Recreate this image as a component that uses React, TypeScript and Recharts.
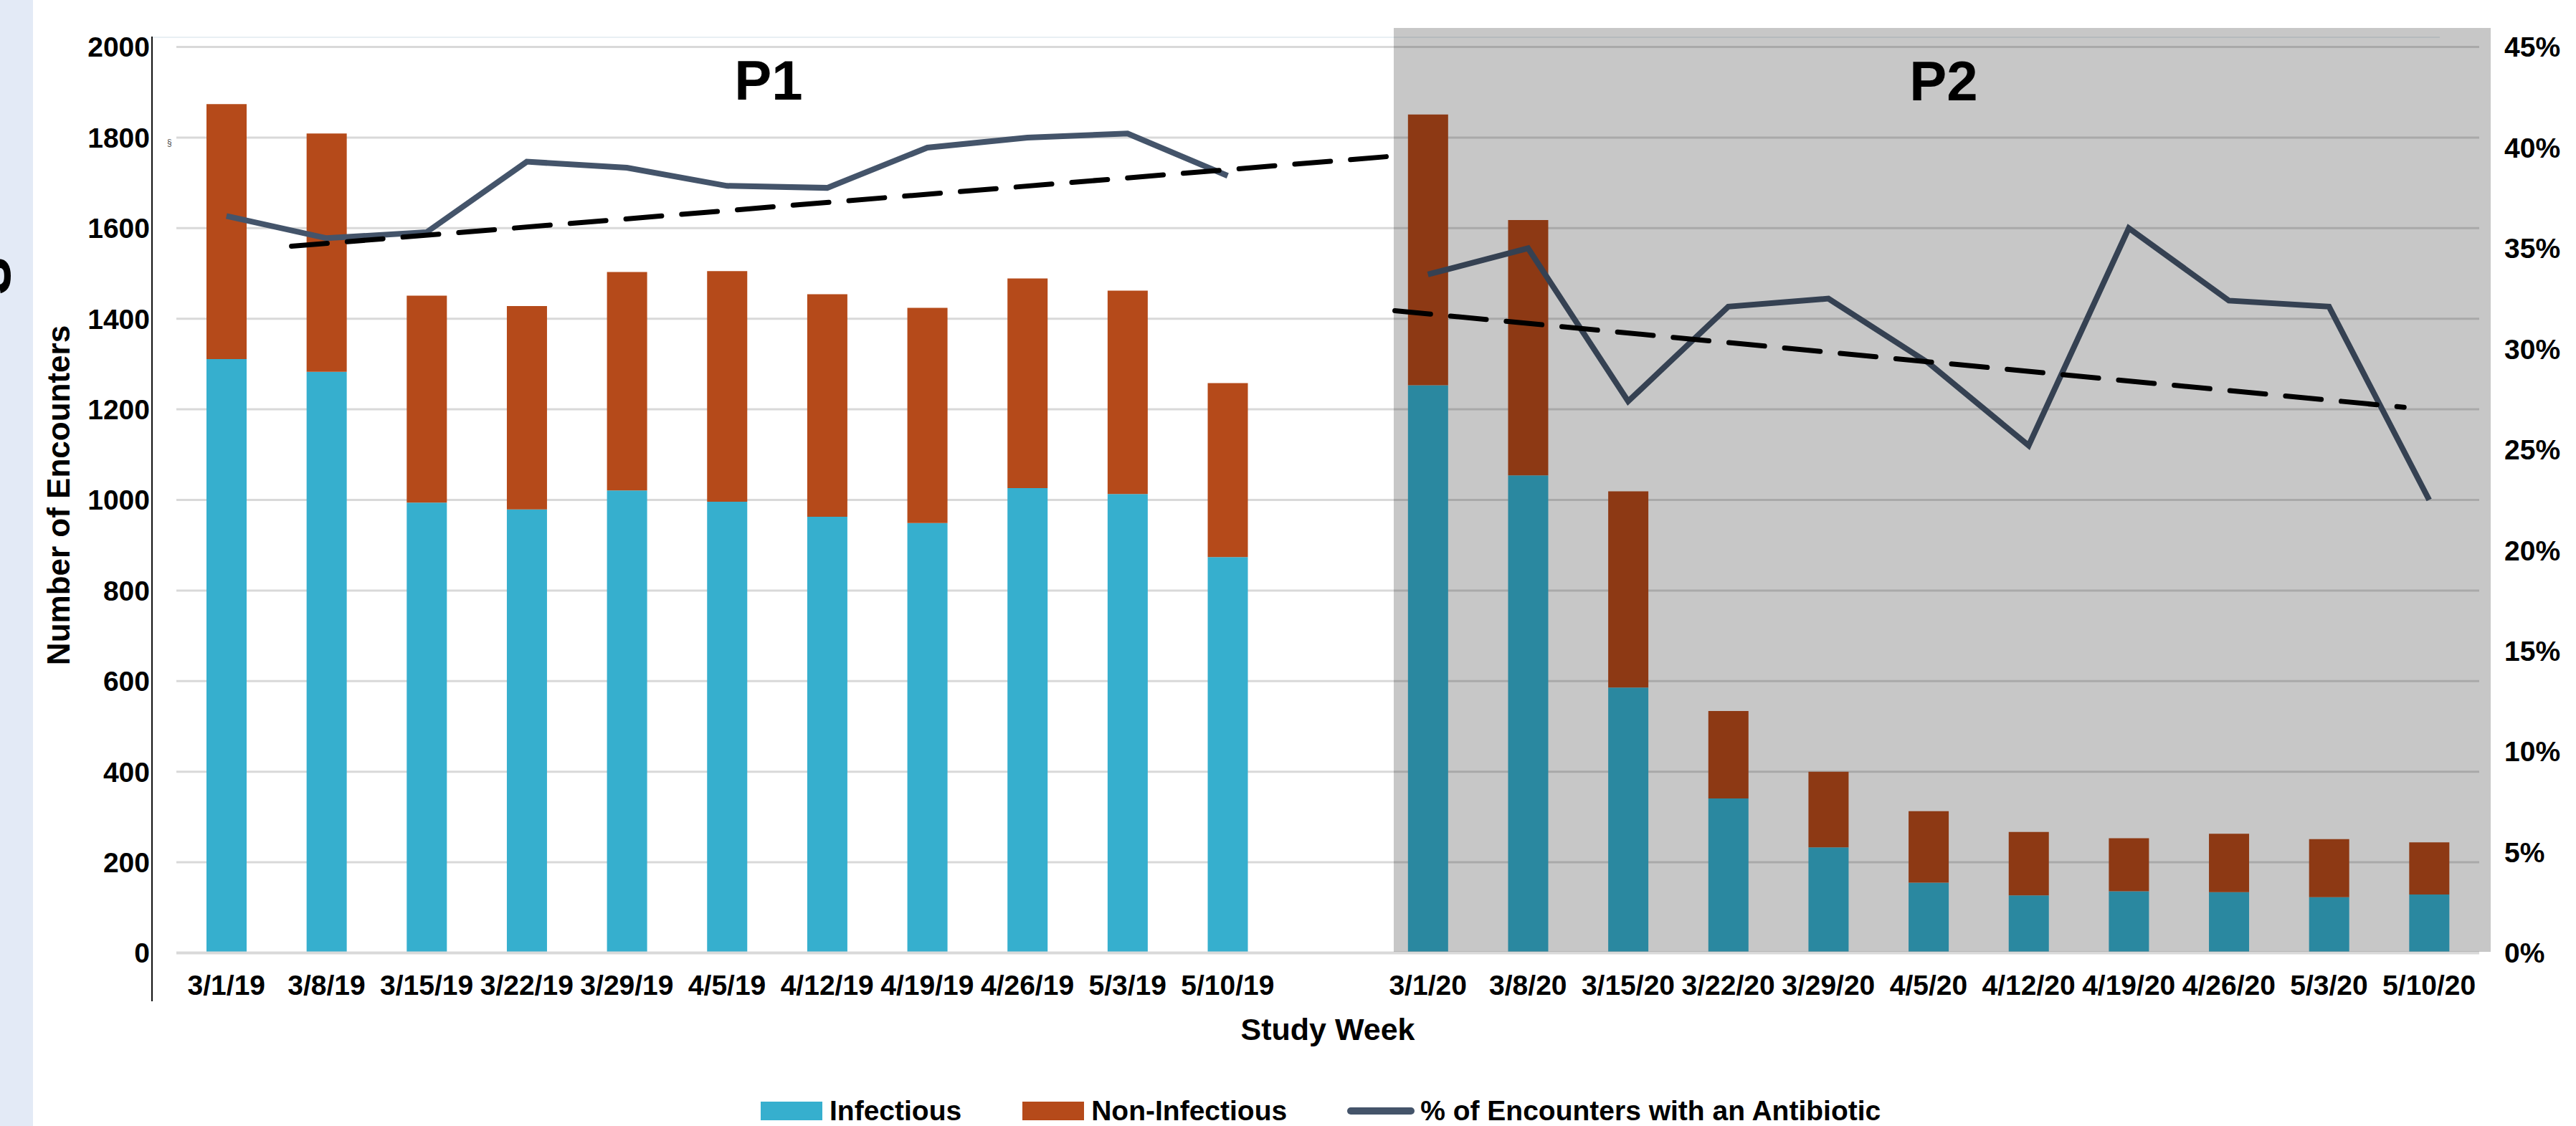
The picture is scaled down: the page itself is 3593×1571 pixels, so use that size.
import { ComposedChart, Bar, Line, XAxis, YAxis, CartesianGrid, ReferenceLine } from 'recharts';

const FONT = '"Liberation Sans", Arial, sans-serif';

// study weeks (blank slot separates the two periods)
const weeks = [
  '3/1/19', '3/8/19', '3/15/19', '3/22/19', '3/29/19', '4/5/19', '4/12/19', '4/19/19', '4/26/19', '5/3/19', '5/10/19',
  '',
  '3/1/20', '3/8/20', '3/15/20', '3/22/20', '3/29/20', '4/5/20', '4/12/20', '4/19/20', '4/26/20', '5/3/20', '5/10/20',
];

const infectious = [
  1311, 1283, 994, 979, 1021, 996, 963, 949, 1026, 1013, 874,
  null,
  1253, 1054, 586, 341, 233, 155, 127, 136, 134, 123, 129,
];

const nonInfectious = [
  563, 526, 457, 449, 482, 509, 491, 475, 463, 449, 384,
  null,
  598, 564, 433, 193, 167, 158, 140, 117, 129, 128, 115,
];

const pctAntibiotic = [
  36.6, 35.5, 35.8, 39.3, 39.0, 38.1, 38.0, 40.0, 40.5, 40.7, 38.6,
  null,
  33.7, 35.0, 27.4, 32.1, 32.5, 29.3, 25.2, 36.0, 32.4, 32.1, 22.5,
];

// linear trend lines (x in week slots, y in %)
const trendP1 = [{ x: 1.15, y: 35.1 }, { x: 12.21, y: 39.6 }];
const trendP2 = [{ x: 12.17, y: 31.9 }, { x: 22.25, y: 27.1 }];

const countTicks = [0, 200, 400, 600, 800, 1000, 1200, 1400, 1600, 1800, 2000];
const pctTicks = [0, 5, 10, 15, 20, 25, 30, 35, 40, 45];
const slotEdges = Array.from({ length: weeks.length + 1 }, (_, i) => i);

const data = weeks.map((week, i) => ({
  week,
  slot: i + 0.5,
  infectious: infectious[i],
  nonInfectious: nonInfectious[i],
  pct: pctAntibiotic[i],
}));

const tickStyle = { fill: '#000', fontSize: 39, fontWeight: 700, fontFamily: FONT };

export default function App() {
  return (
    <div style={{ position: 'absolute', left: 0, top: 0, width: 3593, height: 1571, overflow: 'hidden', background: '#fff', fontFamily: FONT }}>
      {/* left strip */}
      <div style={{ position: 'absolute', left: 0, top: 0, width: 46, height: 1571, background: '#E3EAF6' }} />
      <div style={{ position: 'absolute', left: -21, top: 385, transform: 'translate(-50%, -50%) rotate(-90deg)', fontSize: 100, fontWeight: 700, lineHeight: 1, color: '#000' }}>s</div>

      {/* faint plot border */}
      <div style={{ position: 'absolute', left: 213, top: 51, width: 3190, height: 2, background: '#E8EFF3' }} />

      <div style={{ position: 'absolute', left: 0, top: 0 }}>
        <ComposedChart width={3593} height={1571} data={data} margin={{ top: 65.5, right: 0, bottom: 141.5, left: 0 }}>
          <CartesianGrid horizontal vertical={false} stroke="#D9D9D9" strokeWidth={3} />
          {/* boundary ticks + axis line (sits right on the plot) */}
          <XAxis
            xAxisId={0}
            type="number"
            dataKey="slot"
            domain={[0, weeks.length]}
            allowDataOverflow
            ticks={slotEdges}
            tick={false}
            tickSize={13}
            tickLine={{ stroke: '#D9D9D9', strokeWidth: 2 }}
            axisLine={{ stroke: '#D9D9D9', strokeWidth: 4 }}
            height={1}
          />
          {/* week labels */}
          <XAxis
            xAxisId="cat"
            dataKey="week"
            interval={0}
            tickLine={false}
            axisLine={false}
            tickSize={0}
            tickMargin={30}
            height={99}
            tick={tickStyle}
          />
          <YAxis
            domain={[0, 2000]}
            ticks={countTicks}
            width={246}
            axisLine={false}
            tickLine={false}
            tickSize={0}
            tickMargin={37}
            tick={tickStyle}
          />
          <YAxis
            yAxisId="pct"
            orientation="right"
            domain={[0, 45]}
            ticks={pctTicks}
            tickFormatter={(v: number) => `${v}%`}
            width={135}
            axisLine={false}
            tickLine={false}
            tickSize={0}
            tickMargin={35}
            tick={tickStyle}
          />
          <Bar xAxisId="cat" dataKey="infectious" stackId="enc" fill="#36AFCE" barSize={56} isAnimationActive={false} />
          <Bar xAxisId="cat" dataKey="nonInfectious" stackId="enc" fill="#B54A1A" barSize={56} isAnimationActive={false} />
          <Line
            xAxisId="cat"
            yAxisId="pct"
            dataKey="pct"
            stroke="#44546A"
            strokeWidth={8}
            dot={false}
            activeDot={false}
            connectNulls={false}
            isAnimationActive={false}
          />
          <ReferenceLine
            xAxisId={0}
            yAxisId="pct"
            segment={trendP1}
            stroke="#000"
            strokeWidth={7}
            strokeDasharray="50 28"
            strokeLinecap="round"
            ifOverflow="visible"
          />
          <ReferenceLine
            xAxisId={0}
            yAxisId="pct"
            segment={trendP2}
            stroke="#000"
            strokeWidth={7}
            strokeDasharray="50 28"
            strokeLinecap="round"
            ifOverflow="visible"
          />
        </ComposedChart>
      </div>

      {/* left axis line */}
      <div style={{ position: 'absolute', left: 211, top: 51, width: 2, height: 1346, background: '#111' }} />
      <div style={{ position: 'absolute', left: 233, top: 192, fontSize: 12, color: '#555' }}>§</div>

      {/* period 2 shading */}
      <div style={{ position: 'absolute', left: 1944, top: 39, width: 1530, height: 1289, background: 'rgba(0,0,0,0.22)' }} />

      {/* period labels */}
      <div style={{ position: 'absolute', left: 1072, top: 112, transform: 'translate(-50%, -50%)', fontSize: 78, fontWeight: 700, lineHeight: 1 }}>P1</div>
      <div style={{ position: 'absolute', left: 2711, top: 113, transform: 'translate(-50%, -50%)', fontSize: 78, fontWeight: 700, lineHeight: 1 }}>P2</div>

      {/* axis titles */}
      <div style={{ position: 'absolute', left: 82, top: 691, transform: 'translate(-50%, -50%) rotate(-90deg)', fontSize: 44, fontWeight: 700, lineHeight: 1, whiteSpace: 'nowrap' }}>
        Number of Encounters
      </div>
      <div style={{ position: 'absolute', left: 1852, top: 1415, transform: 'translateX(-50%)', fontSize: 43, fontWeight: 700, lineHeight: 1, whiteSpace: 'nowrap' }}>
        Study Week
      </div>

      {/* legend */}
      <div style={{ position: 'absolute', left: 1061, top: 1530, height: 39, display: 'flex', alignItems: 'center', fontSize: 39, fontWeight: 700, lineHeight: 1, whiteSpace: 'nowrap' }}>
        <div style={{ width: 86, height: 26, background: '#36AFCE', marginRight: 10 }} />
        <span style={{ marginRight: 85 }}>Infectious</span>
        <div style={{ width: 86, height: 26, background: '#B54A1A', marginRight: 10 }} />
        <span style={{ marginRight: 84 }}>Non-Infectious</span>
        <div style={{ width: 94, height: 10, borderRadius: 5, background: '#44546A', marginRight: 8 }} />
        <span>% of Encounters with an Antibiotic</span>
      </div>
    </div>
  );
}
